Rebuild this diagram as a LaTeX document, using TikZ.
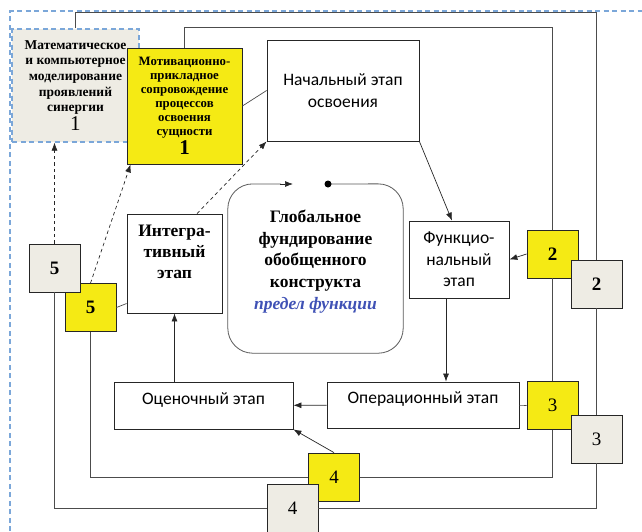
\documentclass[tikz,border=0pt]{standalone}
\usepackage{fontspec}
\setmainfont{Liberation Serif}
\newfontfamily\calib{Carlito}
\usetikzlibrary{arrows.meta}

\definecolor{zhelt}{RGB}{245,234,20}
\definecolor{sery}{RGB}{238,236,228}
\definecolor{goluboy}{RGB}{123,167,217}
\definecolor{sinij}{RGB}{63,81,181}

\tikzstyle{stage} = [rectangle, draw=black!85, fill=white, line width=0.8pt, align=center, inner sep=2pt, font=\calib\fontsize{17.5}{21.5}\selectfont]
\tikzstyle{tag} = [rectangle, draw=black!85, line width=0.8pt, minimum width=51pt, minimum height=48pt, inner sep=0pt, font=\fontsize{19}{20}\selectfont]
\tikzstyle{rim} = [draw=black!70, line width=0.9pt]
\tikzstyle{conn} = [draw=black!85, line width=0.7pt, -{Latex[length=8pt,width=6pt]}]

\begin{document}
\begin{tikzpicture}[x=1pt, y=-1pt]
  \useasboundingbox (0,0) rectangle (642,531);
  \tikzset{dsh/.style={dash pattern=on 3.5pt off 3pt}}

  % outer blue frame
  \draw[goluboy, line width=1.2pt, dash pattern=on 5pt off 3.5pt] (10,531) -- (10,11) -- (642,11);

  % modelling box and motivation box
  \node (M) [rectangle, draw=goluboy, line width=1.2pt, dash pattern=on 5pt off 3.5pt, fill=sery,
    minimum width=127pt, minimum height=113pt, align=center, inner sep=0pt,
    font=\fontsize{13.5}{15.7}\selectfont\bfseries] at (75.5,85.5)
    {Математическое\\и компьютерное\\моделирование\\проявлений\\синергии\\[1pt]{\mdseries\fontsize{21}{21}\selectfont 1}};
  \node (Y) [rectangle, draw=black!85, line width=0.8pt, fill=zhelt,
    minimum width=115pt, minimum height=116pt, align=center, inner sep=0pt,
    font=\fontsize{12.8}{13.9}\selectfont\bfseries] at (184.5,106)
    {Мотивационно-\\прикладное\\сопровождение\\процессов\\освоения\\сущности\\[2pt]{\fontsize{21}{21}\selectfont 1}};

  % stages
  \node (N) [stage, minimum width=152pt, minimum height=101pt] at (343,90.5) {Начальный этап\\освоения};
  \node (F) [stage, minimum width=100pt, minimum height=77pt] at (459,259.5) {Функцио-\\нальный\\этап};
  \node (Op) [stage, minimum width=192pt, minimum height=46pt, text depth=14pt] at (423,405) {Операционный этап};
  \node (Oc) [stage, minimum width=179pt, minimum height=47pt, text depth=14pt] at (203.5,405.5) {Оценочный этап};
  \node (I) [stage, minimum width=95pt, minimum height=99pt] at (174.5,263.5) {};
  \node (It) [align=center, font=\fontsize{17.5}{21}\selectfont\bfseries] at (174.5,252) {Интегра-\\тивный\\этап};

  % global cycle
  \node (G) [minimum width=175pt, minimum height=169pt] at (315.5,268.5) {};
  \node (Gt) [align=center, font=\fontsize{17.5}{21.7}\selectfont\bfseries] at (315.5,261.5)
    {Глобальное\\фундирование\\обобщенного\\конструкта\\{\color{sinij}\itshape предел функции}};
  \coordinate (Gs) at (328,184);
  \coordinate (Ge) at (293,184);
  \draw[draw=black!65, line width=0.8pt, rounded corners=25pt] (Gs) -- (G.north east) -- (G.south east) -- (G.south west) -- (G.north west) -- ([xshift=-12pt]Ge);
  \draw[conn] ([xshift=-13pt]Ge) -- (Ge);
  \fill[black] (Gs) circle (3.5pt);

  % yellow tags
  \node (y5) [tag, fill=zhelt, font=\fontsize{19}{20}\selectfont\bfseries] at (90.5,307.5) {5};
  \node (y2) [tag, fill=zhelt, font=\fontsize{19}{20}\selectfont\bfseries] at (552.5,254) {2};
  \node (y3) [tag, fill=zhelt] at (552.5,405.5) {3};
  \node (y4) [tag, fill=zhelt] at (334,477) {4};

  % grey tags
  \node (g5) [tag, fill=sery, font=\fontsize{19}{20}\selectfont\bfseries] at (54.5,268) {5};
  \node (g2) [tag, fill=sery, font=\fontsize{19}{20}\selectfont\bfseries] at (596.5,284) {2};
  \node (g3) [tag, fill=sery] at (596.5,439) {3};
  \node (g4) [tag, fill=sery] at (292.5,508) {4};

  % frames
  \coordinate (t1) at (596.5,12);
  \coordinate (t2) at (552.5,27);
  \draw[rim] (M.north) |- (t1) -- (g2) -- (g3) |- (g4);
  \draw[rim] (g4) -| (g5);
  \draw[rim] (Y.north) |- (t2) -- (y2) -- (y3) |- (y4);
  \draw[rim] (y4) -| (y5);

  % links
  \draw[draw=black!70, line width=0.7pt] (Y.east) -- (N.west);
  \draw[draw=black!70, line width=0.7pt] (Op) -- (y3);
  \draw[draw=black!70, line width=0.7pt] (y5.east) -- ([yshift=-40pt]I.west);
  \draw[conn] (N.south east) -- ([xshift=-7pt]F.north);
  \draw[conn] (y2.west) -- (F.east);
  \draw[conn] ([xshift=-13pt]F.south) -- ([xshift=-13pt]F.south |- Op.north);
  \draw[conn] (Op) -- (Oc);
  \draw[conn] (y4.north) -- (Oc.south east);
  \draw[conn] (I.south |- Oc.north) -- (I.south);
  \draw[conn, dsh] ([xshift=22.5pt]I.north) -- (N.south west);
  \draw[conn, dsh] (y5.north) -- ([xshift=4pt]Y.south west);
  \draw[conn, dsh] (g5.north) -- (g5.north |- M.south);
\end{tikzpicture}
\end{document}
